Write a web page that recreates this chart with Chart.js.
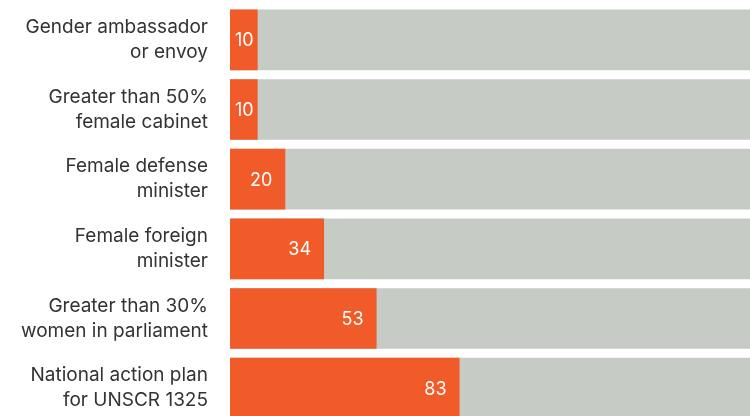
<!DOCTYPE html>
<html>
  <head>
    <title>Countries with gender policies</title>
    <script src="https://cdn.jsdelivr.net/npm/chart.js"></script>
    <style>
      body { margin: 0; background: #fff; overflow: hidden; }
      #wrap { width: 750px; height: 423px; }
    </style>
  </head>
  <body>
    <div id="wrap"><canvas id="bars"></canvas></div>

    <script>
      // data
      var categories = [
        ["Gender ambassador", "or envoy"],
        ["Greater than 50%", "female cabinet"],
        ["Female defense", "minister"],
        ["Female foreign", "minister"],
        ["Greater than 30%", "women in parliament"],
        ["National action plan", "for UNSCR 1325"],
      ];
      var countryCounts = [10, 10, 20, 34, 53, 83];
      var totalCountries = [188, 188, 188, 188, 188, 188];

      var ORANGE = "#f15a29";
      var GREY = "#c6cbc5";

      // white numbers at the end of each orange bar
      var valueLabels = {
        id: "valueLabels",
        afterDatasetsDraw: function (chart) {
          var ctx = chart.ctx;
          var meta = chart.getDatasetMeta(0);
          ctx.save();
          ctx.fillStyle = "#fff";
          ctx.font = "18px Inter, 'Noto Sans', sans-serif";
          ctx.textAlign = "right";
          ctx.textBaseline = "middle";
          meta.data.forEach(function (bar, i) {
            var txt = String(countryCounts[i]);
            var w = ctx.measureText(txt).width;
            var x = Math.max(bar.x - 13, bar.base + 5 + w);
            ctx.fillText(txt, x, bar.y + 1);
          });
          ctx.restore();
        },
      };

      new Chart(document.getElementById("bars"), {
        type: "bar",
        data: {
          labels: categories,
          datasets: [
            {
              data: countryCounts,
              backgroundColor: ORANGE,
              barPercentage: 0.87,
              categoryPercentage: 1,
            },
            {
              data: totalCountries,
              backgroundColor: GREY,
              barPercentage: 0.87,
              categoryPercentage: 1,
            },
          ],
        },
        options: {
          indexAxis: "y",
          responsive: true,
          maintainAspectRatio: false,
          animation: false,
          layout: { autoPadding: false, padding: { top: 5, right: 0, bottom: 0, left: 0 } },
          plugins: {
            legend: { display: false },
            tooltip: { enabled: false },
          },
          scales: {
            x: {
              display: false,
              stacked: false,
              min: 0,
              max: 188,
            },
            y: {
              stacked: true,
              grid: { display: false },
              border: { display: false },
              afterFit: function (scale) {
                scale.width = 230;
                scale.paddingTop = 0;
                scale.paddingBottom = 0;
              },
              ticks: {
                padding: 14,
                color: "#333",
                font: { family: "Inter, 'Noto Sans', sans-serif", size: 19, lineHeight: 1.32 },
              },
            },
          },
        },
        plugins: [valueLabels],
      });
    </script>
  </body>
</html>
